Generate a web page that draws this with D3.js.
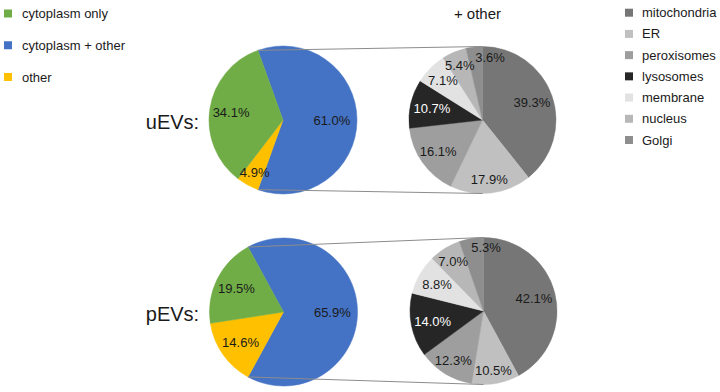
<!DOCTYPE html>
<html>
<head>
<meta charset="utf-8">
<script src="https://cdn.jsdelivr.net/npm/d3@7"></script>
<style>
  html, body { margin: 0; padding: 0; background: #fff; }
  svg { display: block; font-family: "Liberation Sans", Arial, sans-serif; }
</style>
</head>
<body>
<svg id="chart" width="720" height="392"></svg>
<script>
// ---- data ----
const mainCategories = ["cytoplasm only", "cytoplasm + other", "other"];
const mainColors = ["#70ad47", "#4472c4", "#ffc000"];
const groups = ["uEVs:", "pEVs:"];
const uEVsMain = [34.1, 61.0, 4.9];
const pEVsMain = [19.5, 65.9, 14.6];

const otherCategories = ["mitochondria", "ER", "peroxisomes", "lysosomes", "membrane", "nucleus", "Golgi"];
const otherColors = ["#767676", "#c0c0c0", "#9e9e9e", "#262626", "#e2e2e2", "#b7b7b7", "#8e8e8e"];
const otherLabelColors = ["#1a1a1a", "#1a1a1a", "#1a1a1a", "#ffffff", "#1a1a1a", "#1a1a1a", "#1a1a1a"];
const uEVsOther = [39.3, 17.9, 16.1, 10.7, 7.1, 5.4, 3.6];
const pEVsOther = [42.1, 10.5, 12.3, 14.0, 8.8, 7.0, 5.3];
const secondaryTitle = "+ other";

// ---- drawing ----
const svg = d3.select("#chart");
const fmt = d3.format(".1f");
const FS = 13;

const rMain = 74, rOther = 73.5;
const rows = [
  { main: uEVsMain, other: uEVsOther, label: groups[0], cx: 283, cxo: 482.5, cy: 120, cyo: 120 },
  { main: pEVsMain, other: pEVsOther, label: groups[1], cx: 283.5, cxo: 483.5, cy: 312, cyo: 311 }
];

function polar(a, r) { return [r * Math.sin(a), -r * Math.cos(a)]; }

function box(p, w) {
  return { x0: p[0] - w / 2, x1: p[0] + w / 2, y0: p[1] - 7.2, y1: p[1] + 7.2 };
}
function overlaps(a, b) {
  return a.x0 < b.x1 && b.x0 < a.x1 && a.y0 < b.y1 && b.y0 < a.y1;
}

rows.forEach(row => {
  // main pie: split slice ("cytoplasm + other") centred at 3 o'clock, clockwise blue -> yellow -> green
  const order = [1, 2, 0];
  const total = d3.sum(row.main);
  const splitAngle = row.main[1] / total * 2 * Math.PI;
  const start = Math.PI / 2 - splitAngle / 2;
  const mainPie = d3.pie().sort(null).value(i => row.main[i])
    .startAngle(start).endAngle(start + 2 * Math.PI);
  const mainArcs = mainPie(order);
  const arc = d3.arc().innerRadius(0).outerRadius(rMain);

  const g = svg.append("g").attr("transform", `translate(${row.cx},${row.cy})`);
  g.selectAll("path").data(mainArcs).join("path")
    .attr("d", arc)
    .attr("fill", d => mainColors[d.data])
    .attr("stroke", d => mainColors[d.data])
    .attr("stroke-width", 0.5);

  // secondary pie
  const otherPie = d3.pie().sort(null).startAngle(0).endAngle(2 * Math.PI);
  const otherArcs = otherPie(row.other);
  const arcO = d3.arc().innerRadius(0).outerRadius(rOther);
  const go = svg.append("g").attr("transform", `translate(${row.cxo},${row.cyo})`);
  go.selectAll("path").data(otherArcs).join("path")
    .attr("d", arcO)
    .attr("fill", (d, i) => otherColors[i])
    .attr("stroke", (d, i) => otherColors[i])
    .attr("stroke-width", 0.5);

  // connector lines from split slice edges to secondary pie top/bottom
  const blue = mainArcs[0];
  const p1 = polar(blue.startAngle, rMain), p2 = polar(blue.endAngle, rMain);
  svg.append("line").attr("x1", row.cx + p1[0]).attr("y1", row.cy + p1[1])
    .attr("x2", row.cxo).attr("y2", row.cyo - rOther)
    .attr("stroke", "#8c8c8c").attr("stroke-width", 1);
  svg.append("line").attr("x1", row.cx + p2[0]).attr("y1", row.cy + p2[1])
    .attr("x2", row.cxo).attr("y2", row.cyo + rOther)
    .attr("stroke", "#8c8c8c").attr("stroke-width", 1);

  // main labels
  g.selectAll("text").data(mainArcs).join("text")
    .attr("transform", d => {
      const v = row.main[d.data];
      const f = v > 50 ? 0.66 : v < 6 ? 0.8 : 0.71;
      const p = polar((d.startAngle + d.endAngle) / 2, rMain * f);
      return `translate(${p[0]},${p[1]})`;
    })
    .attr("text-anchor", "middle").attr("dy", "0.35em")
    .attr("font-size", FS).attr("fill", "#1a1a1a")
    .text(d => fmt(row.main[d.data]) + "%");

  // other labels: radius grows towards top/bottom (text is wider than tall)
  const labels = go.selectAll("text").data(otherArcs).join("text")
    .attr("text-anchor", "middle").attr("dy", "0.35em")
    .attr("font-size", FS).attr("fill", (d, i) => otherLabelColors[i])
    .text(d => fmt(d.value) + "%");
  const widths = labels.nodes().map(n => n.getComputedTextLength());
  const pos = otherArcs.map(d => {
    const a = (d.startAngle + d.endAngle) / 2;
    const f = 0.7 + 0.12 * Math.cos(a) ** 2;
    return polar(a, rOther * f);
  });
  // the small last slice: label just past the top, moved clockwise until it clears its neighbours
  const last = otherArcs.length - 1;
  if (otherArcs[last].value < 6) {
    let a = otherArcs[last].endAngle + 0.04;
    for (let k = 0; k < 20; k++) {
      pos[last] = polar(a, rOther * 0.86);
      const b = box(pos[last], widths[last]);
      const hit = pos.some((p, j) => j !== last && overlaps(b, box(p, widths[j])));
      if (!hit) break;
      a += 0.02;
    }
  }
  labels.attr("transform", (d, i) => `translate(${pos[i][0]},${pos[i][1]})`);

  // group label
  svg.append("text").attr("x", 172.5).attr("y", row.cy + 9)
    .attr("text-anchor", "middle").attr("font-size", 20).attr("fill", "#1a1a1a")
    .text(row.label);
});

// title of secondary pies
svg.append("text").attr("x", 477.5).attr("y", 19).attr("text-anchor", "middle")
  .attr("font-size", 15).attr("fill", "#1a1a1a").text(secondaryTitle);

// left legend
const legL = svg.append("g");
const leftYs = d3.scalePoint().domain(mainCategories).range([13.5, 77]);
mainCategories.forEach((c, i) => {
  legL.append("rect").attr("x", 4).attr("y", leftYs(c) - 4).attr("width", 8).attr("height", 8)
    .attr("fill", mainColors[i]);
  legL.append("text").attr("x", 22).attr("y", leftYs(c)).attr("dy", "0.35em")
    .attr("font-size", FS).attr("fill", "#1a1a1a").text(c);
});

// right legend
const legR = svg.append("g");
const rightYs = d3.scalePoint().domain(otherCategories).range([12.7, 140]);
otherCategories.forEach((c, i) => {
  legR.append("rect").attr("x", 625).attr("y", rightYs(c) - 4).attr("width", 8).attr("height", 8)
    .attr("fill", otherColors[i]);
  legR.append("text").attr("x", 642).attr("y", rightYs(c)).attr("dy", "0.35em")
    .attr("font-size", FS).attr("fill", "#1a1a1a").text(c);
});
</script>
</body>
</html>
